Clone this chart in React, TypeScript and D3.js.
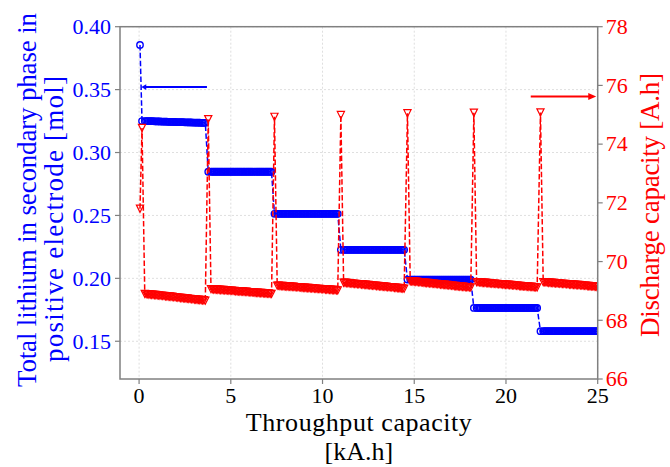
import React from "react";
import * as d3 from "d3";

// Cumulative throughput capacity [kA.h] for each sample (one row per ageing cycle)
const throughput = [
  0.05,
  0.16, 0.31, 0.385, 0.46, 0.535, 0.61, 0.685, 0.76, 0.835, 0.91, 0.985, 1.06, 1.135, 1.21, 1.285, 1.36, 1.435, 1.51, 1.585, 1.66, 1.735, 1.81, 1.885, 1.96, 2.035, 2.11, 2.185, 2.26, 2.335, 2.41, 2.485, 2.56, 2.635, 2.71, 2.785, 2.86, 2.935, 3.01, 3.085, 3.16, 3.235, 3.31, 3.385, 3.46, 3.535, 3.61,
  3.77, 3.92, 3.995, 4.07, 4.145, 4.22, 4.295, 4.37, 4.445, 4.52, 4.595, 4.67, 4.745, 4.82, 4.895, 4.97, 5.045, 5.12, 5.195, 5.27, 5.345, 5.42, 5.495, 5.57, 5.645, 5.72, 5.795, 5.87, 5.945, 6.02, 6.095, 6.17, 6.245, 6.32, 6.395, 6.47, 6.545, 6.62, 6.695, 6.77, 6.845, 6.92, 6.995, 7.07, 7.145, 7.22,
  7.38, 7.53, 7.605, 7.68, 7.755, 7.83, 7.905, 7.98, 8.055, 8.13, 8.205, 8.28, 8.355, 8.43, 8.505, 8.58, 8.655, 8.73, 8.805, 8.88, 8.955, 9.03, 9.105, 9.18, 9.255, 9.33, 9.405, 9.48, 9.555, 9.63, 9.705, 9.78, 9.855, 9.93, 10.005, 10.08, 10.155, 10.23, 10.305, 10.38, 10.455, 10.53, 10.605, 10.68, 10.755, 10.83,
  11.0, 11.15, 11.225, 11.3, 11.375, 11.45, 11.525, 11.6, 11.675, 11.75, 11.825, 11.9, 11.975, 12.05, 12.125, 12.2, 12.275, 12.35, 12.425, 12.5, 12.575, 12.65, 12.725, 12.8, 12.875, 12.95, 13.025, 13.1, 13.175, 13.25, 13.325, 13.4, 13.475, 13.55, 13.625, 13.7, 13.775, 13.85, 13.925, 14.0, 14.075, 14.15, 14.225, 14.3, 14.375, 14.45,
  14.63, 14.78, 14.855, 14.93, 15.005, 15.08, 15.155, 15.23, 15.305, 15.38, 15.455, 15.53, 15.605, 15.68, 15.755, 15.83, 15.905, 15.98, 16.055, 16.13, 16.205, 16.28, 16.355, 16.43, 16.505, 16.58, 16.655, 16.73, 16.805, 16.88, 16.955, 17.03, 17.105, 17.18, 17.255, 17.33, 17.405, 17.48, 17.555, 17.63, 17.705, 17.78, 17.855, 17.93, 18.005, 18.08,
  18.25, 18.4, 18.475, 18.55, 18.625, 18.7, 18.775, 18.85, 18.925, 19.0, 19.075, 19.15, 19.225, 19.3, 19.375, 19.45, 19.525, 19.6, 19.675, 19.75, 19.825, 19.9, 19.975, 20.05, 20.125, 20.2, 20.275, 20.35, 20.425, 20.5, 20.575, 20.65, 20.725, 20.8, 20.875, 20.95, 21.025, 21.1, 21.175, 21.25, 21.325, 21.4, 21.475, 21.55, 21.625, 21.7,
  21.88, 22.03, 22.105, 22.18, 22.255, 22.33, 22.405, 22.48, 22.555, 22.63, 22.705, 22.78, 22.855, 22.93, 23.005, 23.08, 23.155, 23.23, 23.305, 23.38, 23.455, 23.53, 23.605, 23.68, 23.755, 23.83, 23.905, 23.98, 24.055, 24.13, 24.205, 24.28, 24.355, 24.43, 24.505, 24.58, 24.655, 24.73, 24.805, 24.88, 24.955, 25.03,
];

// Total lithium in secondary phase, positive electrode [mol]
const lithium = [
  0.3855,
  0.325, 0.325, 0.325, 0.325, 0.325, 0.3249, 0.3249, 0.3249, 0.3248, 0.3248, 0.3247, 0.3247, 0.3247, 0.3246, 0.3246, 0.3246, 0.3245, 0.3245, 0.3244, 0.3244, 0.3244, 0.3243, 0.3243,
  0.3243, 0.3242, 0.3242, 0.3242, 0.3241, 0.3241, 0.3241, 0.324, 0.324, 0.324, 0.3239, 0.3239, 0.3239, 0.3238, 0.3238, 0.3238, 0.3237, 0.3237, 0.3237, 0.3236, 0.3236, 0.3236, 0.3236,
  0.2847, 0.2847, 0.2847, 0.2847, 0.2847, 0.2847, 0.2847, 0.2847, 0.2847, 0.2847, 0.2847, 0.2847, 0.2847, 0.2847, 0.2847, 0.2847, 0.2847, 0.2847, 0.2847, 0.2847, 0.2847, 0.2847, 0.2847,
  0.2847, 0.2847, 0.2847, 0.2847, 0.2847, 0.2847, 0.2847, 0.2847, 0.2847, 0.2847, 0.2847, 0.2847, 0.2847, 0.2847, 0.2847, 0.2847, 0.2847, 0.2847, 0.2847, 0.2847, 0.2847, 0.2847, 0.2847,
  0.2513, 0.2513, 0.2513, 0.2513, 0.2513, 0.2513, 0.2513, 0.2513, 0.2513, 0.2513, 0.2513, 0.2513, 0.2513, 0.2513, 0.2513, 0.2513, 0.2513, 0.2513, 0.2513, 0.2513, 0.2513, 0.2513, 0.2513,
  0.2513, 0.2513, 0.2513, 0.2513, 0.2513, 0.2513, 0.2513, 0.2513, 0.2513, 0.2513, 0.2513, 0.2513, 0.2513, 0.2513, 0.2513, 0.2513, 0.2513, 0.2513, 0.2513, 0.2513, 0.2513, 0.2513, 0.2513,
  0.2227, 0.2227, 0.2227, 0.2227, 0.2227, 0.2227, 0.2227, 0.2227, 0.2227, 0.2227, 0.2227, 0.2227, 0.2227, 0.2227, 0.2227, 0.2227, 0.2227, 0.2227, 0.2227, 0.2227, 0.2227, 0.2227, 0.2227,
  0.2227, 0.2227, 0.2227, 0.2227, 0.2227, 0.2227, 0.2227, 0.2227, 0.2227, 0.2227, 0.2227, 0.2227, 0.2227, 0.2227, 0.2227, 0.2227, 0.2227, 0.2227, 0.2227, 0.2227, 0.2227, 0.2227, 0.2227,
  0.199, 0.199, 0.199, 0.199, 0.199, 0.199, 0.199, 0.199, 0.199, 0.199, 0.199, 0.199, 0.199, 0.199, 0.199, 0.199, 0.199, 0.199, 0.199, 0.199, 0.199, 0.199, 0.199,
  0.199, 0.199, 0.199, 0.199, 0.199, 0.199, 0.199, 0.199, 0.199, 0.199, 0.199, 0.199, 0.199, 0.199, 0.199, 0.199, 0.199, 0.199, 0.199, 0.199, 0.199, 0.199, 0.199,
  0.1765, 0.1765, 0.1765, 0.1765, 0.1765, 0.1765, 0.1765, 0.1765, 0.1765, 0.1765, 0.1765, 0.1765, 0.1765, 0.1765, 0.1765, 0.1765, 0.1765, 0.1765, 0.1765, 0.1765, 0.1765, 0.1765, 0.1765,
  0.1765, 0.1765, 0.1765, 0.1765, 0.1765, 0.1765, 0.1765, 0.1765, 0.1765, 0.1765, 0.1765, 0.1765, 0.1765, 0.1765, 0.1765, 0.1765, 0.1765, 0.1765, 0.1765, 0.1765, 0.1765, 0.1765, 0.1765,
  0.158, 0.158, 0.158, 0.158, 0.158, 0.158, 0.158, 0.158, 0.158, 0.158, 0.158, 0.158, 0.158, 0.158, 0.158, 0.158, 0.158, 0.158, 0.158, 0.158, 0.158,
  0.158, 0.158, 0.158, 0.158, 0.158, 0.158, 0.158, 0.158, 0.158, 0.158, 0.158, 0.158, 0.158, 0.158, 0.158, 0.158, 0.158, 0.158, 0.158, 0.158, 0.158,
];

// Discharge capacity [A.h]; the first value of each cycle is the capacity check
const capacity = [
  71.8,
  74.55, 68.9, 68.89, 68.89, 68.88, 68.88, 68.87, 68.87, 68.86, 68.86, 68.85, 68.85, 68.84, 68.84, 68.83, 68.83, 68.82, 68.82, 68.81, 68.81, 68.8, 68.8, 68.79, 68.79, 68.78, 68.77, 68.77, 68.76, 68.76, 68.75, 68.75, 68.74, 68.74, 68.73, 68.73, 68.72, 68.72, 68.71, 68.71, 68.7, 68.7, 68.69, 68.69, 68.68, 68.68, 68.67,
  74.85, 69.06, 69.06, 69.05, 69.05, 69.05, 69.04, 69.04, 69.03, 69.03, 69.03, 69.02, 69.02, 69.02, 69.01, 69.01, 69.01, 69.0, 69.0, 68.99, 68.99, 68.99, 68.98, 68.98, 68.98, 68.97, 68.97, 68.97, 68.96, 68.96, 68.95, 68.95, 68.95, 68.94, 68.94, 68.94, 68.93, 68.93, 68.93, 68.92, 68.92, 68.91, 68.91, 68.91, 68.9, 68.9,
  74.93, 69.18, 69.18, 69.17, 69.17, 69.17, 69.16, 69.16, 69.15, 69.15, 69.15, 69.14, 69.14, 69.14, 69.13, 69.13, 69.13, 69.12, 69.12, 69.11, 69.11, 69.11, 69.1, 69.1, 69.1, 69.09, 69.09, 69.09, 69.08, 69.08, 69.07, 69.07, 69.07, 69.06, 69.06, 69.06, 69.05, 69.05, 69.05, 69.04, 69.04, 69.03, 69.03, 69.03, 69.02, 69.02,
  74.99, 69.28, 69.28, 69.27, 69.27, 69.26, 69.26, 69.25, 69.25, 69.24, 69.24, 69.23, 69.23, 69.23, 69.22, 69.22, 69.21, 69.21, 69.2, 69.2, 69.19, 69.19, 69.18, 69.18, 69.18, 69.17, 69.17, 69.16, 69.16, 69.15, 69.15, 69.14, 69.14, 69.13, 69.13, 69.13, 69.12, 69.12, 69.11, 69.11, 69.1, 69.1, 69.09, 69.09, 69.08, 69.08,
  75.05, 69.33, 69.33, 69.32, 69.32, 69.31, 69.31, 69.3, 69.3, 69.29, 69.29, 69.28, 69.28, 69.27, 69.27, 69.26, 69.26, 69.25, 69.25, 69.24, 69.24, 69.23, 69.23, 69.22, 69.22, 69.21, 69.21, 69.2, 69.2, 69.19, 69.19, 69.18, 69.18, 69.17, 69.17, 69.16, 69.16, 69.15, 69.15, 69.14, 69.14, 69.13, 69.13, 69.13, 69.12, 69.12,
  75.07, 69.3, 69.3, 69.29, 69.29, 69.28, 69.28, 69.28, 69.27, 69.27, 69.26, 69.26, 69.25, 69.25, 69.25, 69.24, 69.24, 69.23, 69.23, 69.23, 69.22, 69.22, 69.21, 69.21, 69.21, 69.2, 69.2, 69.19, 69.19, 69.19, 69.18, 69.18, 69.17, 69.17, 69.16, 69.16, 69.16, 69.15, 69.15, 69.14, 69.14, 69.14, 69.13, 69.13, 69.12, 69.12,
  75.08, 69.3, 69.3, 69.29, 69.29, 69.28, 69.28, 69.28, 69.27, 69.27, 69.26, 69.26, 69.26, 69.25, 69.25, 69.24, 69.24, 69.24, 69.23, 69.23, 69.22, 69.22, 69.22, 69.21, 69.21, 69.2, 69.2, 69.2, 69.19, 69.19, 69.18, 69.18, 69.18, 69.17, 69.17, 69.16, 69.16, 69.16, 69.15, 69.15, 69.14, 69.14,
];

const xTicks = [0, 5, 10, 15, 20, 25];
const lithiumTicks = [0.15, 0.2, 0.25, 0.3, 0.35, 0.4];
const capacityTicks = [66, 68, 70, 72, 74, 76, 78];

// Arrows pointing each series to its own axis
const lithiumArrow = { from: 3.7, to: 0.12, value: 0.352 };
const capacityArrow = { from: 21.35, to: 24.92, value: 75.62 };

const W = 670;
const H = 467;
const plot = { left: 120, right: 597.7, top: 26.7, bottom: 379 };
const FONT = "'Liberation Serif', 'Times New Roman', serif";
const BLUE = "#0000ff";
const RED = "#ff0000";
const SPINE = "#808080";

export default function App() {
  const x = d3.scaleLinear().domain([-1.04, 25]).range([plot.left, plot.right]);
  const yL = d3.scaleLinear().domain([0.12, 0.4]).range([plot.bottom, plot.top]);
  const yR = d3.scaleLinear().domain([66, 78]).range([plot.bottom, plot.top]);

  const n = Math.min(throughput.length, lithium.length, capacity.length);
  const pts = throughput.slice(0, n).map((t, i) => ({ t, li: lithium[i], cap: capacity[i] }));

  const lineL = d3
    .line<{ t: number; li: number }>()
    .x((d) => x(d.t))
    .y((d) => yL(d.li));
  const lineR = d3
    .line<{ t: number; cap: number }>()
    .x((d) => x(d.t))
    .y((d) => yR(d.cap));

  const tri = (cx: number, cy: number, h = 3.6) =>
    `M${cx - h},${cy - h}L${cx + h},${cy - h}L${cx},${cy + h}Z`;

  const bArrowY = yL(lithiumArrow.value);
  const bx0 = x(lithiumArrow.from);
  const bx1 = x(lithiumArrow.to);
  const rArrowY = yR(capacityArrow.value);
  const rx0 = x(capacityArrow.from);
  const rx1 = x(capacityArrow.to);
  const xMid = (plot.left + plot.right) / 2;

  return (
    <svg
      width={W}
      height={H}
      viewBox={`0 0 ${W} ${H}`}
      style={{ position: "absolute", left: 0, top: 0, background: "#fff" }}
      fontFamily={FONT}
    >
      <defs>
        <clipPath id="plot-area">
          <rect x={plot.left} y={plot.top} width={plot.right - plot.left} height={plot.bottom - plot.top} />
        </clipPath>
      </defs>
      <rect width={W} height={H} fill="#fff" />

      {/* grid */}
      <g stroke="#d6d6d6" strokeWidth={0.8} strokeDasharray="2,2">
        {xTicks.map((t) => (
          <line key={"gx" + t} x1={x(t)} x2={x(t)} y1={plot.top} y2={plot.bottom} />
        ))}
        {lithiumTicks.map((t) => (
          <line key={"gy" + t} x1={plot.left} x2={plot.right} y1={yL(t)} y2={yL(t)} />
        ))}
      </g>

      <g clipPath="url(#plot-area)">
        {/* lithium series */}
        <path d={lineL(pts) || ""} fill="none" stroke={BLUE} strokeWidth={1.5} strokeDasharray="5.5,2.4" />
        {pts.map((d, i) => (
          <circle key={"c" + i} cx={x(d.t)} cy={yL(d.li)} r={3.2} fill="none" stroke={BLUE} strokeWidth={1.4} />
        ))}
        <line x1={bx0} x2={bx1 + 4} y1={bArrowY} y2={bArrowY} stroke={BLUE} strokeWidth={2} />
        <path d={`M${bx1},${bArrowY}L${bx1 + 5},${bArrowY - 2.8}L${bx1 + 5},${bArrowY + 2.8}Z`} fill={BLUE} />

        {/* capacity series */}
        <path d={lineR(pts) || ""} fill="none" stroke={RED} strokeWidth={1.5} strokeDasharray="5.5,2.4" />
        {pts.map((d, i) => (
          <path key={"v" + i} d={tri(x(d.t), yR(d.cap))} fill="none" stroke={RED} strokeWidth={1.2} />
        ))}
        <line x1={rx0} x2={rx1 - 6} y1={rArrowY} y2={rArrowY} stroke={RED} strokeWidth={2} />
        <path d={`M${rx1},${rArrowY}L${rx1 - 8},${rArrowY - 3.5}L${rx1 - 8},${rArrowY + 3.5}Z`} fill={RED} />
      </g>

      {/* frame */}
      <rect
        x={plot.left}
        y={plot.top}
        width={plot.right - plot.left}
        height={plot.bottom - plot.top}
        fill="none"
        stroke={SPINE}
        strokeWidth={1.5}
      />

      {/* bottom axis */}
      {xTicks.map((t) => (
        <g key={"xt" + t}>
          <line x1={x(t)} x2={x(t)} y1={plot.bottom} y2={plot.bottom + 5} stroke={SPINE} strokeWidth={1.2} />
          <text x={x(t)} y={402.5} textAnchor="middle" fontSize={22} fill="#000">
            {t}
          </text>
        </g>
      ))}
      <text x={xMid} y={430.5} textAnchor="middle" fontSize={26} fill="#000" textLength={226} lengthAdjust="spacing">
        Throughput capacity
      </text>
      <text x={xMid} y={459.5} textAnchor="middle" fontSize={26} fill="#000">
        [kA.h]
      </text>

      {/* left axis */}
      {lithiumTicks.map((t) => (
        <g key={"lt" + t}>
          <line x1={plot.left - 5} x2={plot.left} y1={yL(t)} y2={yL(t)} stroke={SPINE} strokeWidth={1.2} />
          <text x={plot.left - 9} y={yL(t) + 7.3} textAnchor="end" fontSize={22} fill={BLUE}>
            {t.toFixed(2)}
          </text>
        </g>
      ))}
      <text
        transform="translate(35.5,200) rotate(-90)"
        textAnchor="middle"
        fontSize={27}
        fill={BLUE}
        textLength={374}
        lengthAdjust="spacing"
      >
        Total lithium in secondary phase in
      </text>
      <text
        transform="translate(63,219) rotate(-90)"
        textAnchor="middle"
        fontSize={27}
        fill={BLUE}
        textLength={286}
        lengthAdjust="spacing"
      >
        positive electrode [mol]
      </text>

      {/* right axis */}
      {capacityTicks.map((t) => (
        <g key={"rt" + t}>
          <line x1={plot.right} x2={plot.right + 5} y1={yR(t)} y2={yR(t)} stroke={SPINE} strokeWidth={1.2} />
          <text x={plot.right + 8} y={yR(t) + 7.3} textAnchor="start" fontSize={22} fill={RED}>
            {t}
          </text>
        </g>
      ))}
      <text
        transform="translate(659,205) rotate(-90)"
        textAnchor="middle"
        fontSize={27}
        fill={RED}
        textLength={264}
        lengthAdjust="spacing"
      >
        Discharge capacity [A.h]
      </text>
    </svg>
  );
}
